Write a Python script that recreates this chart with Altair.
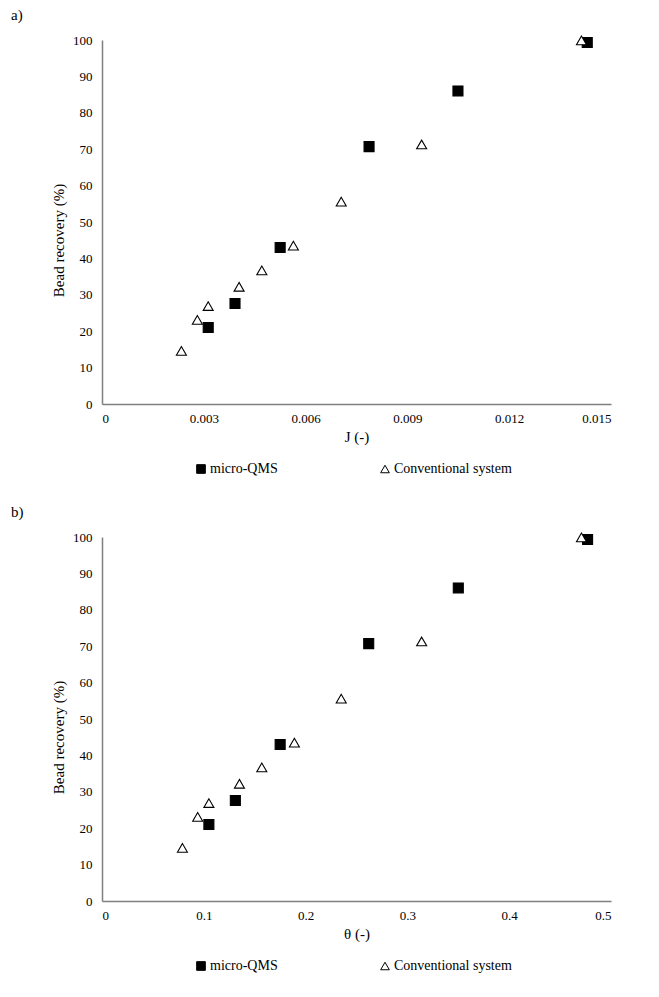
import altair as alt
import pandas as pd

series = ["micro-QMS", "Conventional system"]

# Panel a) : J (-)
j_qms = [0.00313, 0.00392, 0.00525, 0.00787, 0.01049, 0.0143]
j_conv = [0.00234, 0.00281, 0.00313, 0.00404, 0.00471, 0.00564, 0.00705, 0.00942, 0.01413]

# Panel b) : theta (-)
theta_qms = [0.105, 0.131, 0.175, 0.262, 0.350, 0.477]
theta_conv = [0.079, 0.094, 0.105, 0.135, 0.157, 0.189, 0.235, 0.314, 0.471]

# Bead recovery (%) – same in both panels
rec_qms = [21.0, 27.6, 43.0, 70.7, 86.0, 99.3]
rec_conv = [14.6, 23.1, 26.9, 32.2, 36.7, 43.5, 55.6, 71.3, 99.9]

j_ticks = [0, 0.003, 0.006, 0.009, 0.012, 0.015]
theta_ticks = [0, 0.1, 0.2, 0.3, 0.4, 0.5]
y_ticks = list(range(0, 101, 10))

FONT = "Liberation Serif, Times New Roman, serif"
AXIS_GRAY = "#7f7f7f"


def panel(x_qms, x_conv, xtitle, xdomain, xticks, xfmt, label):
    df = pd.DataFrame({
        "x": list(x_qms) + list(x_conv),
        "rec": rec_qms + rec_conv,
        "series": [series[0]] * len(x_qms) + [series[1]] * len(x_conv),
    })
    legend = alt.Legend(
        title=None, orient="none", legendX=92, legendY=422,
        direction="horizontal", columns=2, columnPadding=100,
        symbolSize=75, symbolStrokeWidth=1, symbolStrokeColor="black",
        labelFont=FONT, labelFontSize=14, labelColor="black", labelOffset=2,
        symbolOpacity=1,
    )
    pts = alt.Chart(df).mark_point(
        size=100, opacity=1, fillOpacity=1, strokeWidth=1.1
    ).encode(
        x=alt.X("x:Q", scale=alt.Scale(domain=xdomain, nice=False, zero=True),
                axis=alt.Axis(values=xticks, format=xfmt, title=xtitle)),
        y=alt.Y("rec:Q", scale=alt.Scale(domain=[0, 100], nice=False),
                axis=alt.Axis(values=y_ticks, title="Bead recovery (%)", titleY=200)),
        shape=alt.Shape("series:N", scale=alt.Scale(domain=series, range=["square", "triangle-up"]), legend=legend),
        fill=alt.Fill("series:N", scale=alt.Scale(domain=series, range=["black", "white"]), legend=legend),
        stroke=alt.Stroke("series:N", scale=alt.Scale(domain=series, range=["black", "black"]), legend=legend),
        order=alt.Order("order:Q"),
    ).transform_calculate(order="datum.series == 'micro-QMS' ? 0 : 1")
    lab = alt.Chart(pd.DataFrame({"t": [label]})).mark_text(
        font=FONT, fontSize=15, align="left", baseline="middle", color="black"
    ).encode(x=alt.value(-91), y=alt.value(-25), text="t:N")
    return alt.layer(pts, lab).properties(width=509, height=364)


a = panel(j_qms, j_conv, "J (-)", [0, 0.015], j_ticks, ".3~f", "a)")
b = panel(theta_qms, theta_conv, "θ (-)", [0, 0.5], theta_ticks, ".1~f", "b)")

chart = alt.vconcat(a, b, spacing=29).resolve_scale(
    x="independent", shape="independent", fill="independent", stroke="independent"
).properties(
    padding={"left": 3, "top": 0, "right": 5, "bottom": 5}
).configure_view(stroke=None).configure_axis(
    grid=False, ticks=False, domainColor=AXIS_GRAY, domainWidth=1.5,
    labelFont=FONT, labelFontSize=13, labelColor="black",
    titleFont=FONT, titleFontSize=15, titleFontWeight="normal", titleColor="black",
).configure_axisX(labelPadding=8, titlePadding=4).configure_axisY(
    labelPadding=10, titlePadding=6
)

chart.save("out.html", embed_options={"renderer": "svg", "actions": False})
